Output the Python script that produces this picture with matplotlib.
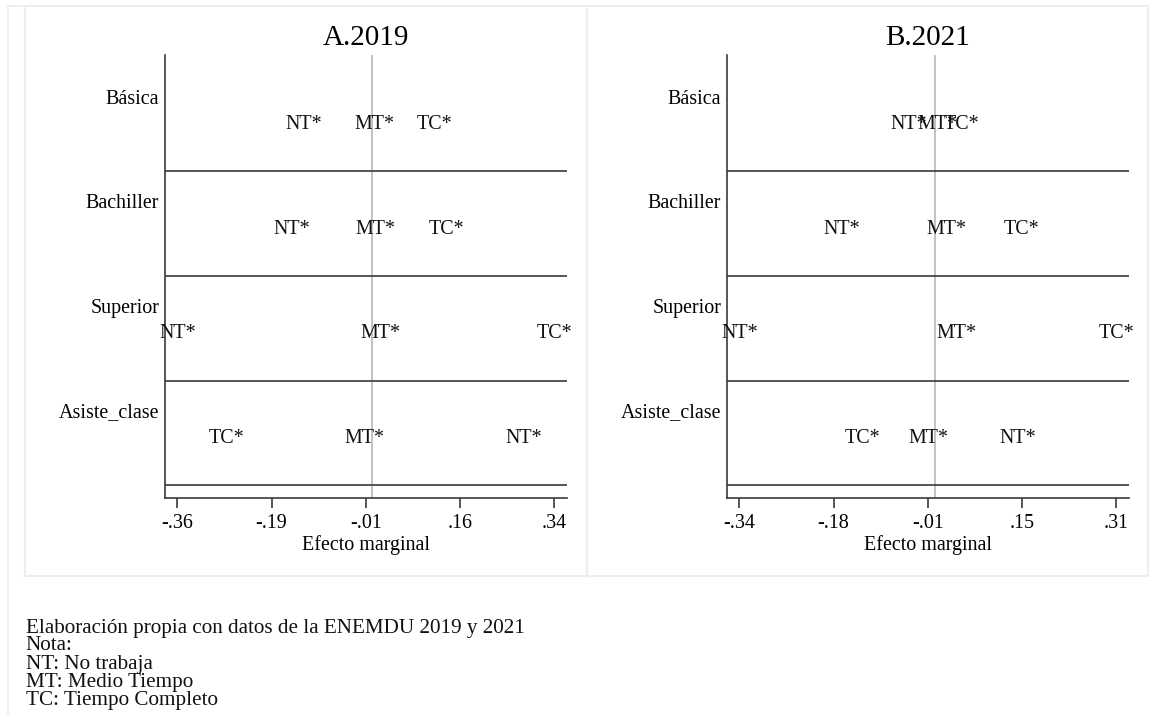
import numpy as np
import matplotlib
matplotlib.use("Agg")
import matplotlib.pyplot as plt
from matplotlib.patches import Rectangle
from matplotlib.lines import Line2D

# ---------------- data ----------------
categories = ["Básica", "Bachiller", "Superior", "Asiste_clase"]
series_names = ["NT*", "MT*", "TC*"]

nt_2019 = [-0.126, -0.149, -0.362, 0.282]
mt_2019 = [0.004, 0.006, 0.016, -0.014]
tc_2019 = [0.117, 0.139, 0.339, -0.271]

nt_2021 = [-0.046, -0.161, -0.338, 0.143]
mt_2021 = [0.004, 0.019, 0.036, -0.011]
tc_2021 = [0.046, 0.149, 0.312, -0.125]

ticklabels_2019 = ["-.36", "-.19", "-.01", ".16", ".34"]
ticklabels_2021 = ["-.34", "-.18", "-.01", ".15", ".31"]

titles = ["A.2019", "B.2021"]
xlabel = "Efecto marginal"
footer = ["Elaboración propia con datos de la ENEMDU 2019 y 2021",
          "Nota:",
          "NT: No trabaja",
          "MT: Medio Tiempo",
          "TC: Tiempo Completo"]

# ---------------- figure ----------------
W, H = 1150, 715
plt.rcParams['font.family'] = ['Liberation Serif', 'DejaVu Serif']
fig = plt.figure(figsize=(W / 100, H / 100), dpi=100)

def fx(px):
    return px / W

def fy(py):
    return 1 - py / H

# light frames (Stata graph combine regions)
frame_col = "#eeeeee"
fig.add_artist(Line2D([fx(7.5), fx(7.5)], [fy(6), fy(715)], color=frame_col, lw=1.2))
fig.add_artist(Line2D([fx(7.5), fx(1148)], [fy(6), fy(6)], color=frame_col, lw=1.2))
for (x0, x1) in [(25, 587), (587, 1148)]:
    fig.add_artist(Rectangle((fx(x0), fy(576)), fx(x1 - x0), (576 - 6) / H,
                             fill=False, edgecolor=frame_col, lw=1.5))

panels = [
    (titles[0], [nt_2019, mt_2019, tc_2019], ticklabels_2019, 164.7),
    (titles[1], [nt_2021, mt_2021, tc_2021], ticklabels_2021, 726.7),
]

ax_w = 402.0
ax_top, ax_bot = 55.0, 497.7
fs = 14.4
dark = "#3a3a3a"

n = len(categories)
ypos = np.arange(n)

for title, series, tlabels, left_px in panels:
    ax = fig.add_axes([fx(left_px), fy(ax_bot), ax_w / W, (ax_bot - ax_top) / H])
    allv = np.concatenate([np.asarray(s) for s in series])
    vmin, vmax = allv.min(), allv.max()
    pad = 0.0337 * (vmax - vmin)
    ax.set_xlim(vmin - pad, vmax + pad)
    ax.set_ylim(n - 1 + 0.605, -0.63)

    # reference line at zero
    ax.axvline(0, color="#b8b8b8", lw=1.2, zorder=1)
    # separators between rows
    for y in ypos:
        ax.axhline(y + 0.484, color=dark, lw=1.2, zorder=2)

    # text markers
    for name, vals in zip(series_names, series):
        for y, v in zip(ypos, vals):
            ax.text(v, y + 0.035, name, ha="center", va="center", fontsize=fs,
                    color="#111111", zorder=3)

    # y labels (category names)
    ax.set_yticks(ypos - 0.23)
    ax.set_yticklabels(categories, fontsize=fs)
    ax.tick_params(axis="y", length=0, pad=4)

    # x ticks
    ax.set_xticks(np.linspace(vmin, vmax, len(tlabels)))
    ax.set_xticklabels(tlabels, fontsize=fs)
    ax.tick_params(axis="x", length=7, width=1.2, color=dark, pad=5)
    ax.set_xlabel(xlabel, fontsize=fs, labelpad=1)

    for s in ["top", "right"]:
        ax.spines[s].set_visible(False)
    for s in ["left", "bottom"]:
        ax.spines[s].set_color(dark)
        ax.spines[s].set_linewidth(1.2)

    fig.text(fx(left_px + ax_w / 2), fy(38), title, ha="center", va="center",
             fontsize=21)

# footer notes
footer_y = [628, 646, 664, 682, 700]
for line, yy in zip(footer, footer_y):
    fig.text(fx(25.6), fy(yy), line, ha="left", va="center", fontsize=15.2,
             color="#111111")

fig.savefig("out.png", dpi=100)
